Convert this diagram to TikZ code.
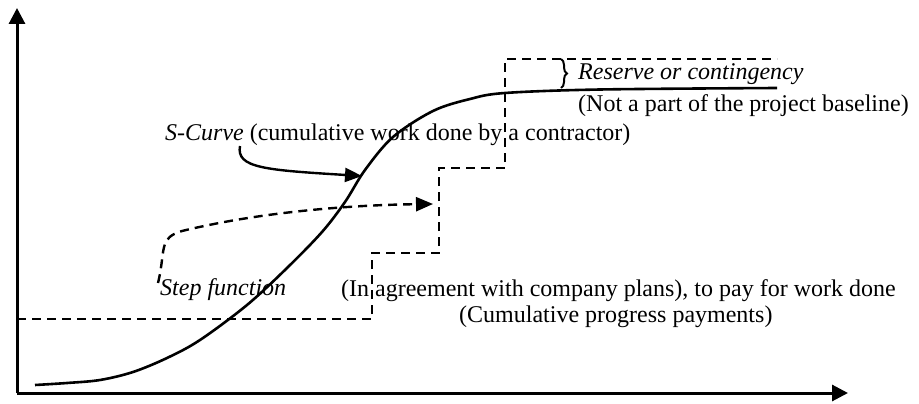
\documentclass[tikz,border=0pt]{standalone}
\usepackage{fontspec}
\setmainfont{Liberation Serif}
\usetikzlibrary{arrows.meta,decorations.pathreplacing}
\begin{document}
\begin{tikzpicture}[x=1pt,y=-1pt,
  axis/.style={line width=3pt,-{Triangle[length=16pt,width=16pt]}},
  scurve/.style={line width=2.6pt,line join=round},
  stepline/.style={line width=2.4pt,dash pattern=on 9pt off 6pt},
  pointer/.style={line width=2.4pt,-{Triangle[length=17pt,width=14pt]}},
  label/.style={inner sep=0pt,anchor=base west,font=\fontsize{24}{28}\selectfont}]
\useasboundingbox (0,0) rectangle (919,404);

% axes
\coordinate (origin) at (17,393);
\coordinate (ytip) at (17,8);
\coordinate (xtip) at (848,393);
\draw[axis] (origin) -- (ytip);
\draw[axis] (origin) -- (xtip);

% cumulative work done (S-curve)
\draw[scurve] plot[smooth,tension=0.55] coordinates {
  (35,385) (67,383) (100,380) (133,372) (167,358) (200,340) (247,305)
  (287,268) (322,232) (345,202) (365,170) (393,137) (433,111) (470,99)
  (505,93) (600,89.5) (777,88)};

% step function of progress payments
\coordinate (s0) at (17,319);
\coordinate (s1) at (372,319);
\coordinate (s2) at (372,253);
\coordinate (s3) at (439,253);
\coordinate (s4) at (439,168);
\coordinate (s5) at (505,168);
\coordinate (s6) at (505,59);
\coordinate (s7) at (777,59);
\draw[stepline] (s0) -- (s1) -- (s2) -- (s3) -- (s4) -- (s5) -- (s6) -- (s7);

% reserve brace
\coordinate (bt) at (561,59);
\coordinate (bb) at (561,88);
\draw[line width=2pt,decorate,decoration={brace,amplitude=6pt}] (bt) -- (bb);

% labels
\node[label] (scl) at (165,140) {\textit{S-Curve} (cumulative work done by a contractor)};
\node[label] (res) at (578,80) {\textit{Reserve or contingency}};
\node[label] (base) at (578,111) {(Not a part of the project baseline)};
\node[label] (stepl) at (160,295) {\textit{Step function}};
\node[label] (agree) at (341,296) {(In agreement with company plans), to pay for work done};
\node[label] (cum) at (459,322) {(Cumulative progress payments)};

% pointers
\coordinate (sa) at (240,146);
\coordinate (sb) at (362,176);
\draw[pointer] (sa) .. controls (236,168) and (265,170) .. (sb);
\coordinate (da) at (158,283);
\coordinate (db) at (433,204);
\draw[pointer,dash pattern=on 9pt off 6pt] (da) .. controls (166,250) and (158,238) .. (182,231)
  .. controls (260,212) and (350,205) .. (db);
\end{tikzpicture}
\end{document}
